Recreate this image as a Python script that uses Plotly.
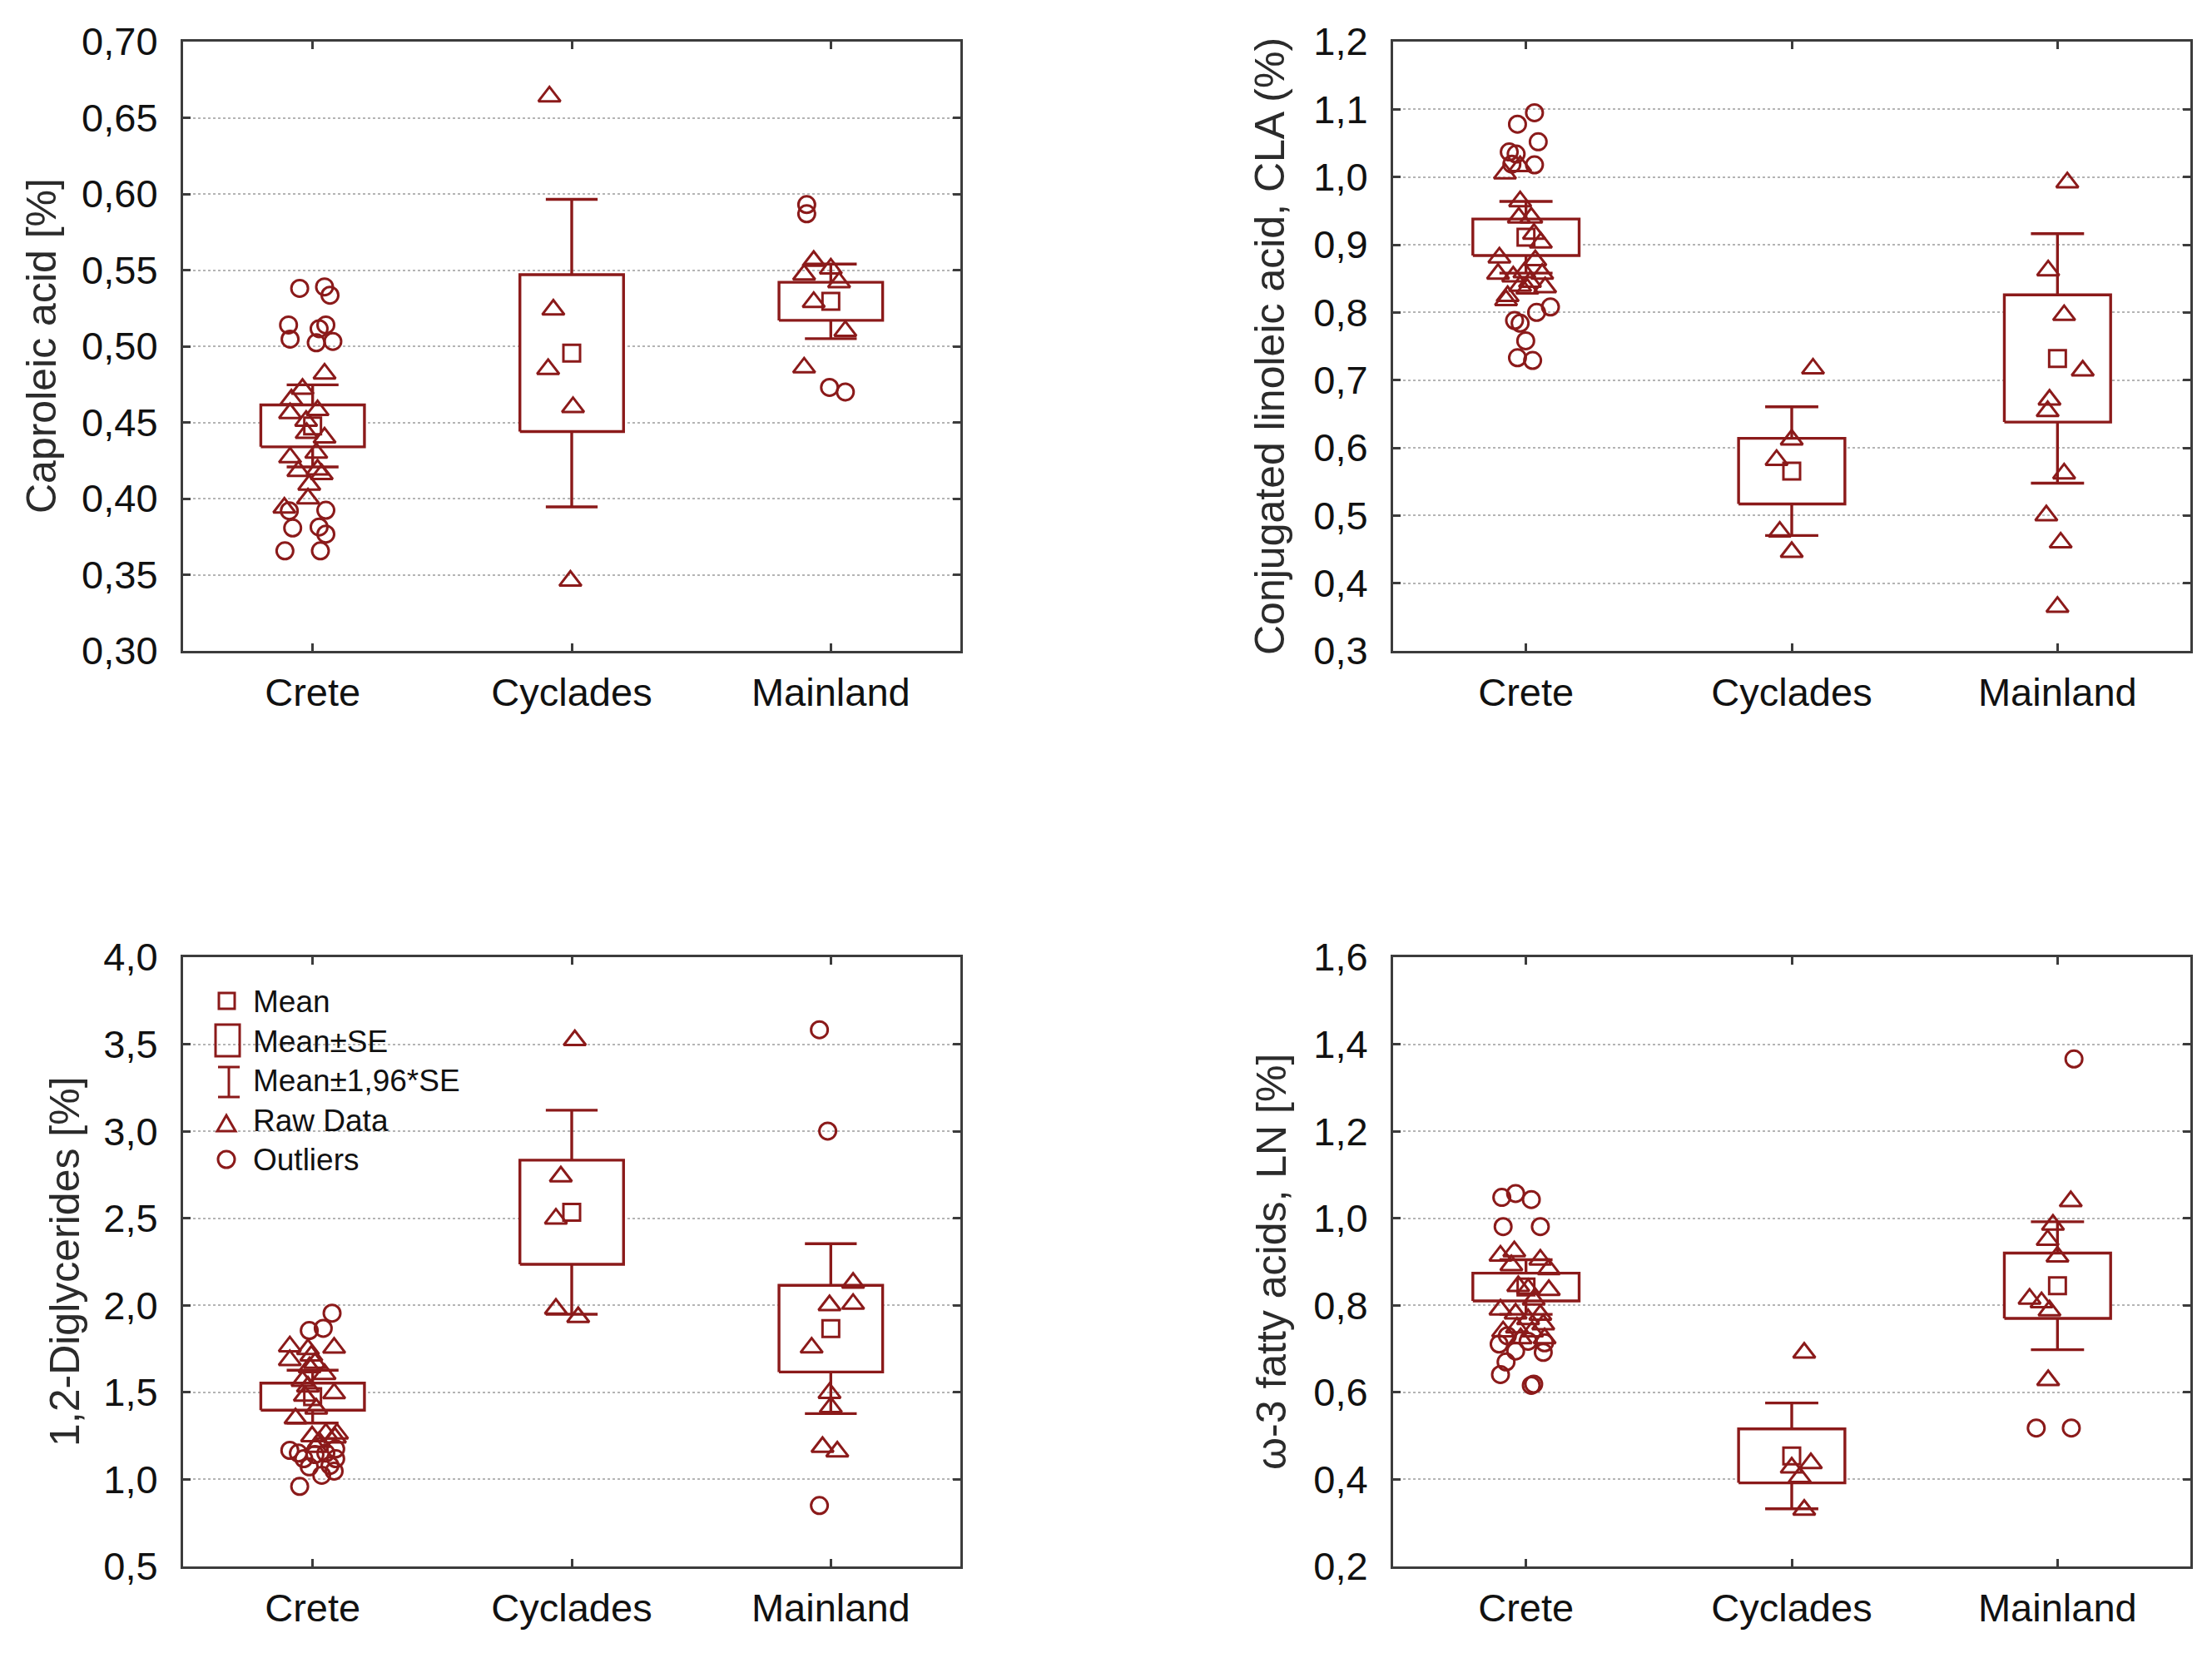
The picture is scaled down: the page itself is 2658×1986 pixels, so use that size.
import plotly.graph_objects as go

W, H = 2658, 1986          # browser window
PAGE_MARGIN = 8            # default body margin of the html page
FW, FH = W - 2 * PAGE_MARGIN, H - 2 * PAGE_MARGIN
RED = "#8b1a1a"
FRAME = "#3c3c3c"
FONT = "Arial, Liberation Sans, sans-serif"

CATEGORIES = ["Crete", "Cyclades", "Mainland"]

# ---------------- Panel 1: Caproleic acid ----------------
CAP_TITLE = "Caproleic acid [%]"
CAP_TICKS = [0.30, 0.35, 0.40, 0.45, 0.50, 0.55, 0.60, 0.65, 0.70]
CAP_MEAN = [0.4477, 0.4955, 0.5295]
CAP_SE = [0.01375, 0.0515, 0.0125]
CAP_RAW_Y = [0.482, 0.472, 0.465, 0.456, 0.458, 0.451, 0.443, 0.440, 0.427, 0.430,
             0.418, 0.419, 0.416, 0.409, 0.400, 0.394,
             0.664, 0.524, 0.485, 0.460, 0.346,
             0.547, 0.556, 0.551, 0.542, 0.529, 0.510, 0.486]
CAP_RAW_G = [0] * 16 + [1] * 5 + [2] * 7
CAP_RAW_DX = [0.046, -0.039, -0.082, -0.087, 0.019, -0.025, -0.023, 0.046, -0.087, 0.014,
              -0.055, 0.019, 0.035, -0.013, -0.018, -0.109,
              -0.086, -0.071, -0.091, 0.005, -0.005,
              -0.103, -0.066, 0.0, 0.032, -0.066, 0.056, -0.103]
CAP_OUT_Y = [0.538, 0.539, 0.5335, 0.514, 0.514, 0.5115, 0.5047, 0.5023, 0.5032,
             0.392, 0.3923, 0.3807, 0.3813, 0.3767, 0.3657, 0.3657,
             0.593, 0.587, 0.473, 0.470]
CAP_OUT_G = [0] * 16 + [2] * 4
CAP_OUT_DX = [-0.050, 0.046, 0.067, -0.093, 0.051, 0.025, -0.087, 0.014, 0.078,
              -0.090, 0.051, -0.077, 0.025, 0.051, -0.107, 0.030,
              -0.093, -0.093, -0.005, 0.056]

# ---------------- Panel 2: CLA ----------------
CLA_TITLE = "Conjugated linoleic acid, CLA (%)"
CLA_TICKS = [0.3, 0.4, 0.5, 0.6, 0.7, 0.8, 0.9, 1.0, 1.1, 1.2]
CLA_MEAN = [0.911, 0.5655, 0.732]
CLA_SE = [0.027, 0.0485, 0.094]
CLA_RAW_Y = [1.005, 1.016, 0.964, 0.940, 0.940, 0.916, 0.903, 0.881, 0.877, 0.857,
             0.853, 0.859, 0.857, 0.839, 0.837, 0.824, 0.845, 0.818, 0.835,
             0.717, 0.612, 0.582, 0.476, 0.446,
             0.992, 0.862, 0.796, 0.714, 0.671, 0.654, 0.562, 0.500, 0.460, 0.365]
CLA_RAW_G = [0] * 19 + [1] * 5 + [2] * 10
CLA_RAW_DX = [-0.079, -0.022, -0.022, -0.027, 0.020, 0.030, 0.056, -0.100, 0.035, -0.105,
              -0.048, -0.006, 0.061, -0.022, 0.072, -0.069, 0.015, -0.075, 0.005,
              0.080, 0.0, -0.057, -0.045, 0.0,
              0.037, -0.035, 0.025, 0.095, -0.030, -0.037, 0.025, -0.042, 0.012, 0.0]
CLA_OUT_Y = [1.095, 1.078, 1.052, 1.037, 1.034, 1.018, 1.019,
             0.808, 0.800, 0.788, 0.784, 0.758, 0.733, 0.729]
CLA_OUT_G = [0] * 14
CLA_OUT_DX = [0.032, -0.032, 0.046, -0.063, -0.037, 0.032, -0.053,
              0.092, 0.040, -0.043, -0.022, -0.001, -0.032, 0.025]

# ---------------- Panel 3: 1,2-Diglycerides ----------------
DG_TITLE = "1,2-Diglycerides [%]"
DG_TICKS = [0.5, 1.0, 1.5, 2.0, 2.5, 3.0, 3.5, 4.0]
DG_MEAN = [1.4755, 2.535, 1.866]
DG_SE = [0.0775, 0.299, 0.249]
DG_RAW_Y = [1.764, 1.756, 1.685, 1.748, 1.711, 1.669, 1.644, 1.605, 1.565, 1.494,
            1.533, 1.480, 1.406, 1.350, 1.247, 1.263, 1.263, 1.240, 1.215, 1.186,
            3.523, 2.740, 2.498, 1.980, 1.932,
            2.129, 2.008, 2.000, 1.757, 1.496, 1.415, 1.186, 1.160]
DG_RAW_G = [0] * 20 + [1] * 5 + [2] * 8
DG_RAW_DX = [-0.088, 0.083, -0.088, -0.018, -0.005, 0.009, -0.012, 0.046, -0.039, 0.083,
             -0.018, -0.030, 0.014, -0.066, -0.002, 0.051, 0.094, 0.086, 0.025, 0.012,
             0.012, -0.042, -0.061, -0.061, 0.025,
             0.086, 0.086, -0.005, -0.074, -0.005, 0.0, -0.032, 0.025]
DG_OUT_Y = [1.955, 1.868, 1.855, 1.167, 1.151, 1.119, 1.143, 1.151, 1.119, 1.175,
            1.072, 1.024, 1.048, 0.960, 1.080,
            3.583, 3.001, 0.850]
DG_OUT_G = [0] * 15 + [2] * 3
DG_OUT_DX = [0.075, 0.041, -0.013, -0.088, -0.055, -0.034, 0.009, 0.051, 0.089, 0.089,
             -0.013, 0.035, 0.083, -0.050, 0.067,
             -0.044, -0.012, -0.044]

# ---------------- Panel 4: omega-3 ----------------
LN_TITLE = "ω-3 fatty acids, LN [%]"
LN_TICKS = [0.2, 0.4, 0.6, 0.8, 1.0, 1.2, 1.4, 1.6]
LN_MEAN = [0.842, 0.454, 0.845]
LN_SE = [0.032, 0.062, 0.075]
LN_RAW_Y = [0.914, 0.924, 0.892, 0.905, 0.883, 0.838, 0.835, 0.844, 0.813, 0.790,
            0.781, 0.778, 0.768, 0.756, 0.740, 0.749, 0.740, 0.724, 0.724,
            0.691, 0.437, 0.427, 0.405, 0.330,
            1.039, 0.985, 0.950, 0.912, 0.815, 0.807, 0.788, 0.628]
LN_RAW_G = [0] * 19 + [1] * 5 + [2] * 8
LN_RAW_DX = [-0.096, -0.044, -0.055, 0.054, 0.086, 0.008, 0.086, -0.029, 0.029, -0.096,
             -0.039, 0.054, 0.008, 0.065, -0.086, -0.034, 0.023, 0.070, -0.020,
             0.047, 0.072, 0.0, 0.030, 0.047,
             0.050, -0.017, -0.037, 0.0, -0.105, -0.060, -0.030, -0.035]
LN_OUT_Y = [1.048, 1.057, 1.043, 0.981, 0.981, 0.711, 0.695, 0.692, 0.670, 0.641,
            0.619, 0.616, 0.730, 0.7175, 0.714,
            1.366, 0.518, 0.518]
LN_OUT_G = [0] * 15 + [2] * 3
LN_OUT_DX = [-0.091, -0.039, 0.020, -0.086, 0.054, -0.101, -0.039, 0.065, -0.075, -0.096,
             0.029, 0.020, -0.070, 0.008, 0.070,
             0.062, -0.080, 0.052]

LEGEND_LABELS = ["Mean", "Mean±SE", "Mean±1,96*SE", "Raw Data", "Outliers"]

# ---------------- layout geometry (window pixels) ----------------
LEFT_X = (220, 1154)
RIGHT_X = (1674, 2632)
TOP_Y = (50, 782)
BOT_Y = (1150, 1882)

BOX_HW = 0.2
CAP_HW = 0.1


def px(x):
    return (x - PAGE_MARGIN) / FW


def py(y):
    return 1 - (y - PAGE_MARGIN) / FH


fig = go.Figure()

panels = [
    dict(n="", xr=LEFT_X, yr=TOP_Y, title=CAP_TITLE, ticks=CAP_TICKS, fmt=".2f",
         mean=CAP_MEAN, se=CAP_SE, ry=CAP_RAW_Y, rg=CAP_RAW_G, rdx=CAP_RAW_DX,
         oy=CAP_OUT_Y, og=CAP_OUT_G, odx=CAP_OUT_DX, tx=50),
    dict(n="2", xr=RIGHT_X, yr=TOP_Y, title=CLA_TITLE, ticks=CLA_TICKS, fmt=".1f",
         mean=CLA_MEAN, se=CLA_SE, ry=CLA_RAW_Y, rg=CLA_RAW_G, rdx=CLA_RAW_DX,
         oy=CLA_OUT_Y, og=CLA_OUT_G, odx=CLA_OUT_DX, tx=1526),
    dict(n="3", xr=LEFT_X, yr=BOT_Y, title=DG_TITLE, ticks=DG_TICKS, fmt=".1f",
         mean=DG_MEAN, se=DG_SE, ry=DG_RAW_Y, rg=DG_RAW_G, rdx=DG_RAW_DX,
         oy=DG_OUT_Y, og=DG_OUT_G, odx=DG_OUT_DX, tx=78),
    dict(n="4", xr=RIGHT_X, yr=BOT_Y, title=LN_TITLE, ticks=LN_TICKS, fmt=".1f",
         mean=LN_MEAN, se=LN_SE, ry=LN_RAW_Y, rg=LN_RAW_G, rdx=LN_RAW_DX,
         oy=LN_OUT_Y, og=LN_OUT_G, odx=LN_OUT_DX, tx=1528),
]

annotations = []
for p in panels:
    xa, ya = "x" + p["n"], "y" + p["n"]
    mean, se = p["mean"], p["se"]
    # whiskers (mean +/- 1.96 SE)
    wx, wy = [], []
    for i, (m, s) in enumerate(zip(mean, se)):
        lo, hi = m - 1.96 * s, m + 1.96 * s
        wx += [i, i, None, i, i, None, i - CAP_HW, i + CAP_HW, None, i - CAP_HW, i + CAP_HW, None]
        wy += [m + s, hi, None, m - s, lo, None, hi, hi, None, lo, lo, None]
    fig.add_trace(go.Scatter(x=wx, y=wy, xaxis=xa, yaxis=ya, mode="lines",
                             line=dict(color=RED, width=3.4), showlegend=False, hoverinfo="skip"))
    # boxes (mean +/- SE)
    for i, (m, s) in enumerate(zip(mean, se)):
        fig.add_trace(go.Scatter(
            x=[i - BOX_HW, i + BOX_HW, i + BOX_HW, i - BOX_HW, i - BOX_HW],
            y=[m - s, m - s, m + s, m + s, m - s],
            xaxis=xa, yaxis=ya, mode="lines", fill="toself", fillcolor="white",
            line=dict(color=RED, width=3.4), showlegend=False, hoverinfo="skip"))
    # raw data
    fig.add_trace(go.Scatter(
        x=[g + d for g, d in zip(p["rg"], p["rdx"])], y=p["ry"], xaxis=xa, yaxis=ya,
        mode="markers", showlegend=False,
        marker=dict(symbol="triangle-up-open", size=23, color=RED, line=dict(width=3, color=RED))))
    # outliers
    fig.add_trace(go.Scatter(
        x=[g + d for g, d in zip(p["og"], p["odx"])], y=p["oy"], xaxis=xa, yaxis=ya,
        mode="markers", showlegend=False,
        marker=dict(symbol="circle-open", size=20, color=RED, line=dict(width=3, color=RED))))
    # means
    fig.add_trace(go.Scatter(
        x=list(range(len(mean))), y=mean, xaxis=xa, yaxis=ya, mode="markers", showlegend=False,
        marker=dict(symbol="square-open", size=20, color=RED, line=dict(width=3, color=RED))))

    x0, x1 = p["xr"]
    y0, y1 = p["yr"]
    common = dict(showline=True, linewidth=3, linecolor=FRAME, mirror="ticks",
                  ticks="inside", ticklen=9, tickwidth=2.5, tickcolor=FRAME, automargin=False,
                  tickfont=dict(family=FONT, size=47, color="#111111"), zeroline=False)
    fig.layout["xaxis" + p["n"]] = dict(
        domain=[px(x0), px(x1)], anchor=ya, range=[-0.5, 2.5],
        tickmode="array", tickvals=[0, 1, 2], ticktext=CATEGORIES,
        showgrid=False, ticklabelstandoff=7, **common)
    fig.layout["yaxis" + p["n"]] = dict(
        domain=[py(y1), py(y0)], anchor=xa, range=[p["ticks"][0], p["ticks"][-1]],
        tickmode="array", tickvals=p["ticks"], tickformat=p["fmt"],
        showgrid=True, gridcolor="#b4b4b4", gridwidth=2, griddash="dot",
        ticklabelstandoff=18, **common)
    annotations.append(dict(
        text=p["title"], xref="paper", yref="paper", x=px(p["tx"]), y=py((y0 + y1) / 2),
        xanchor="center", yanchor="middle", textangle=-90, showarrow=False,
        font=dict(family=FONT, size=50, color="#2b2b2b")))

# ---------------- legend (drawn in panel 3) ----------------
shapes = []
lc = dict(color=RED, width=3)
# Mean
shapes.append(dict(type="rect", xref="paper", yref="paper", x0=px(263), x1=px(282),
                   y0=py(1212), y1=py(1193), line=lc))
# Mean±SE
shapes.append(dict(type="rect", xref="paper", yref="paper", x0=px(259), x1=px(288),
                   y0=py(1269), y1=py(1231), line=lc))
# Mean±1,96*SE
ib = "M {a},{t} L {a},{b} M {l},{t} L {r},{t} M {l},{b} L {r},{b}".format(
    a=px(275), t=py(1282), b=py(1318), l=px(262), r=px(288))
shapes.append(dict(type="path", xref="paper", yref="paper", path=ib, line=lc))
# Raw data
tri = "M {l},{b} L {r},{b} L {c},{t} Z".format(l=px(261), r=px(283), c=px(272), b=py(1359), t=py(1340))
shapes.append(dict(type="path", xref="paper", yref="paper", path=tri, line=lc))
# Outliers
shapes.append(dict(type="circle", xref="paper", yref="paper", x0=px(262), x1=px(282),
                   y0=py(1403), y1=py(1383), line=lc))
for lab, yy in zip(LEGEND_LABELS, [1203, 1251, 1298, 1346, 1393]):
    annotations.append(dict(text=lab, xref="paper", yref="paper", x=px(302), y=py(yy),
                            xanchor="left", yanchor="middle", showarrow=False,
                            font=dict(family=FONT, size=37, color="#111111")))

fig.update_layout(width=FW, height=FH, margin=dict(l=0, r=0, t=0, b=0, autoexpand=False),
                  paper_bgcolor="white", plot_bgcolor="white", separators=", ",
                  showlegend=False, annotations=annotations, shapes=shapes,
                  font=dict(family=FONT))

fig.write_html("out.html")
